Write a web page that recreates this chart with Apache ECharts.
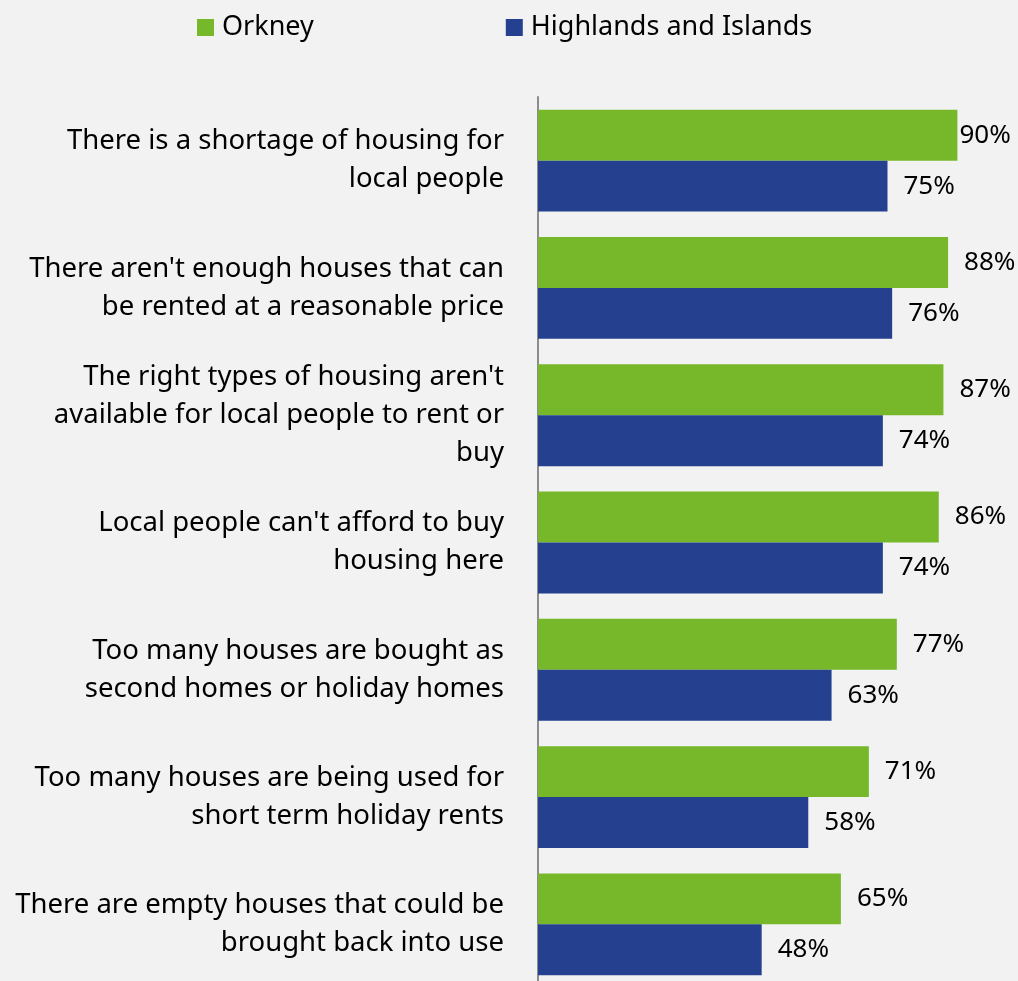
<!DOCTYPE html>
<html>
<head>
<meta charset="utf-8">
<style>
html, body { margin: 0; padding: 0; background: #f2f2f2; }
#chart-panel { position: absolute; left: 0; top: 0; width: 1018px; height: 981px; }
</style>
<script src="https://cdn.jsdelivr.net/npm/echarts@6/dist/echarts.min.js"></script>
</head>
<body>
<div id="chart-panel"></div>
<script type="text/javascript">
// statements, top to bottom
var categories = [
    'There is a shortage of housing for\nlocal people',
    "There aren't enough houses that can\nbe rented at a reasonable price",
    "The right types of housing aren't\navailable for local people to rent or\nbuy",
    "Local people can't afford to buy\nhousing here",
    'Too many houses are bought as\nsecond homes or holiday homes',
    'Too many houses are being used for\nshort term holiday rents',
    'There are empty houses that could be\nbrought back into use'
];
var orkney = [90, 88, 87, 86, 77, 71, 65];
var highlands = [75, 76, 74, 74, 63, 58, 48];

var FONT = 'Noto Sans';
var myChart = echarts.init(document.getElementById('chart-panel'));

// labels near the right edge sit closer to the bar
function withLabels(arr) {
    return arr.map(function (v) {
        return v >= 90 ? { value: v, label: { distance: 2 } } : v;
    });
}

var valueLabel = { show: true, position: 'right', distance: 16, formatter: '{c}%', fontSize: 26, color: '#000', fontFamily: FONT };

var option = {
    backgroundColor: '#f2f2f2',
    textStyle: { fontFamily: FONT },
    legend: {
        left: 192,
        top: 9,
        itemWidth: 17,
        itemHeight: 17,
        itemGap: 192,
        icon: 'rect',
        textStyle: { fontSize: 27, color: '#000', fontFamily: FONT, padding: [0, 0, 0, 3] },
        data: ['Orkney', 'Highlands and Islands']
    },
    grid: { left: 538, width: 466, top: 97, height: 891, outerBoundsMode: 'none' },
    xAxis: {
        type: 'value',
        min: 0,
        max: 100,
        show: false
    },
    yAxis: {
        type: 'category',
        inverse: true,
        data: categories,
        axisLine: { show: true, lineStyle: { color: '#8c8c8c', width: 2 } },
        axisTick: { show: false },
        axisLabel: {
            margin: 34,
            fontSize: 27.5,
            lineHeight: 38,
            color: '#000',
            align: 'right',
            fontFamily: FONT
        }
    },
    series: [
        {
            name: 'Orkney',
            type: 'bar',
            data: withLabels(orkney),
            itemStyle: { color: '#76b82a' },
            barGap: '0%',
            barCategoryGap: '20%',
            label: valueLabel
        },
        {
            name: 'Highlands and Islands',
            type: 'bar',
            data: withLabels(highlands),
            itemStyle: { color: '#25408f' },
            barGap: '0%',
            barCategoryGap: '20%',
            label: valueLabel
        }
    ]
};

myChart.setOption(option);
</script>
</body>
</html>
